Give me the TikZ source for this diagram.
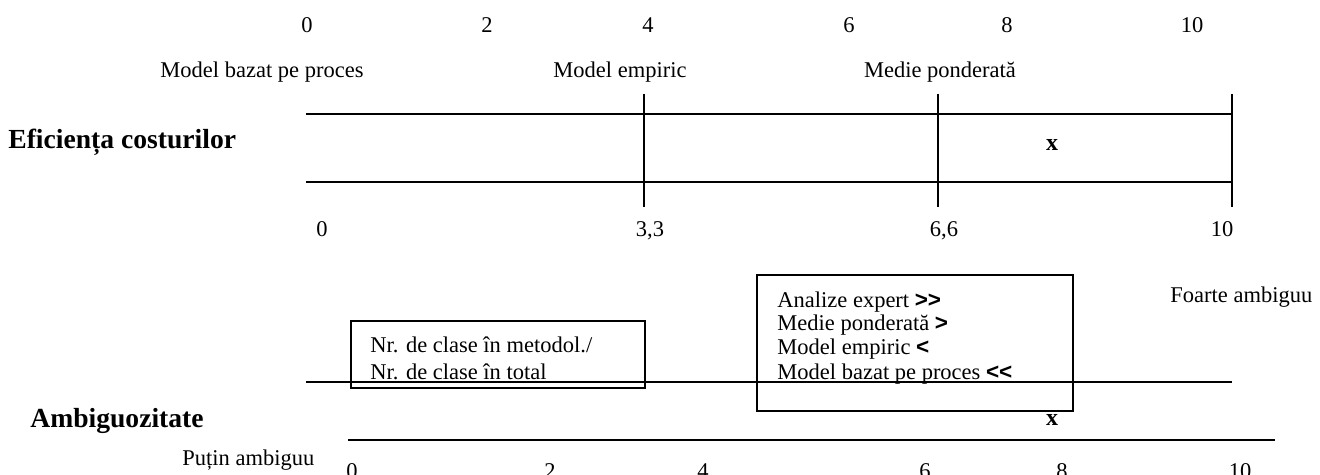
\documentclass[tikz,border=0pt]{standalone}
\usepackage{fontspec}
\setmainfont{Liberation Serif}
\newfontfamily\symfont{Liberation Sans}
\begin{document}
\begin{tikzpicture}[x=0.5pt,y=-0.5pt,
  txt/.style={inner sep=0pt, anchor=base, font=\fontsize{11.25}{12}\selectfont},
  txtl/.style={txt, anchor=base west},
  boldl/.style={inner sep=0pt, anchor=base west, font=\fontsize{13.8}{16}\selectfont\bfseries},
  boldc/.style={inner sep=0pt, anchor=base, font=\fontsize{12}{14}\selectfont\bfseries},
  hline/.style={line width=1.3pt},
  vline/.style={line width=1pt},
  boxst/.style={draw, line width=1pt, inner sep=0pt, rectangle}]
\newcommand{\rel}[1]{{\symfont\bfseries #1}}
\useasboundingbox (0,0) rectangle (1320,475);
% top scale
\node[txt] (t0) at (307,33) {0};
\node[txt] (t2) at (487,33) {2};
\node[txt] (t4) at (648,33) {4};
\node[txt] (t6) at (849,33) {6};
\node[txt] (t8) at (1007,33) {8};
\node[txt] (t10) at (1192,33) {10};
% method labels
\node[txt] (mproc) at (262,78) {Model bazat pe proces};
\node[txt] (memp) at (620,78) {Model empiric};
\node[txt] (mmed) at (940,78) {Medie ponderată};
% cost efficiency band
\node[boldl] (eff) at (8,149) {Eficiența costurilor};
\coordinate (ua) at (306,114); \coordinate (ub) at (1232,114);
\coordinate (la) at (306,182); \coordinate (lb) at (1232,182);
\draw[hline] (ua) -- (ub);
\draw[hline] (la) -- (lb);
\coordinate (v1t) at (644,94); \coordinate (v1b) at (644,207);
\coordinate (v2t) at (938,94); \coordinate (v2b) at (938,207);
\coordinate (v3t) at (1232,94); \coordinate (v3b) at (1232,207);
\draw[vline] (v1t) -- (v1b);
\draw[vline] (v2t) -- (v2b);
\draw[vline] (v3t) -- (v3b);
\node[boldc] (xa) at (1052,151) {x};
% thresholds
\node[txt] (s0) at (322,237) {0};
\node[txt] (s33) at (650,237) {3,3};
\node[txt] (s66) at (944,237) {6,6};
\node[txt] (s10) at (1222,237) {10};
% ambiguity section
\node[txtl] (fa) at (1170,302) {Foarte ambiguu};
\node[boxst, minimum width=158pt, minimum height=68pt] (rbox) at (915,343) {};
\node[txtl] (r1) at (777,307) {Analize expert \rel{>>}};
\node[txtl] (r2) at (777,330) {Medie ponderată \rel{>}};
\node[txtl] (r3) at (777,354) {Model empiric \rel{<}};
\node[txtl] (r4) at (777,379) {Model bazat pe proces \rel{<<}};
\node[boxst, minimum width=147pt, minimum height=33.5pt] (lbox) at (498,354.5) {};
\node[txtl] (l1) at (370,352) {Nr. de clase în metodol./};
\node[txtl] (l2) at (370,379) {Nr. de clase în total};
\coordinate (aa) at (306,382); \coordinate (ab) at (1232,382);
\draw[hline] (aa) -- (ab);
\node[boldl] (amb) at (30,427) {Ambiguozitate};
\node[boldc] (xb) at (1052,425) {x};
\coordinate (ba) at (348,440); \coordinate (bb) at (1275,440);
\draw[hline] (ba) -- (bb);
\node[txtl] (pa) at (182,465) {Puțin ambiguu};
\node[txt] (b0) at (352,478) {0};
\node[txt] (b2) at (550,478) {2};
\node[txt] (b4) at (703,478) {4};
\node[txt] (b6) at (925,478) {6};
\node[txt] (b8) at (1062,478) {8};
\node[txt] (b10) at (1240,478) {10};
\end{tikzpicture}
\end{document}
